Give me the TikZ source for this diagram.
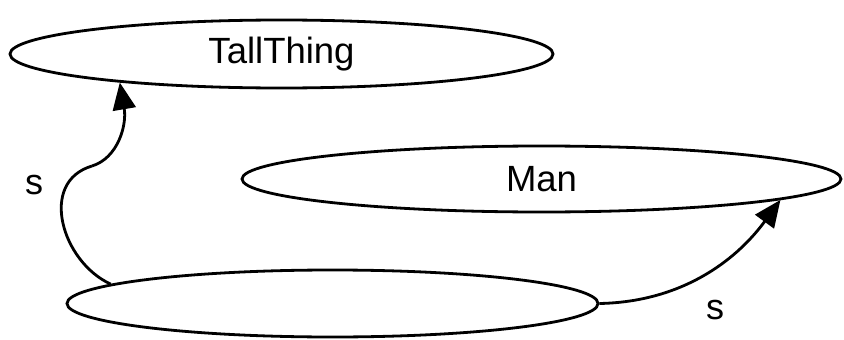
\documentclass[tikz,border=0pt]{standalone}
\usepackage{fontspec}
\setmainfont{Liberation Sans}
\usetikzlibrary{shapes.geometric,arrows.meta}
\begin{document}
\begin{tikzpicture}[x=1pt,y=1pt,
  ell/.style={draw,ellipse,line width=2.8pt,inner sep=0pt,font=\fontsize{36.5}{40}\selectfont},
  conn/.style={line width=2.8pt,-{Triangle[length=27pt,width=23pt]}},
  lbl/.style={font=\fontsize{36}{40}\selectfont}]
\useasboundingbox (0,0) rectangle (844,-340);
\node[ell,minimum width=543pt,minimum height=68pt] (t) at (281.5,-54) {TallThing};
\node[ell,minimum width=599pt,minimum height=66pt] (m) at (541.5,-179) {Man};
\node[ell,minimum width=531pt,minimum height=67pt] (b) at (332.5,-303.5) {};
\coordinate (k) at (92,-166);
\draw[line width=2.8pt] (b.175.5) .. controls (62,-262) and (38,-182) .. (k);
\draw[conn] (k) .. controls (118,-158) and (127,-125) .. (t.190.2);
\draw[conn] (b.east) .. controls (680,-302) and (735,-262) .. (m.-5.7);
\node[lbl] (s1) at (34,-185) {s};
\node[lbl] (s2) at (715,-310) {s};
\end{tikzpicture}
\end{document}
